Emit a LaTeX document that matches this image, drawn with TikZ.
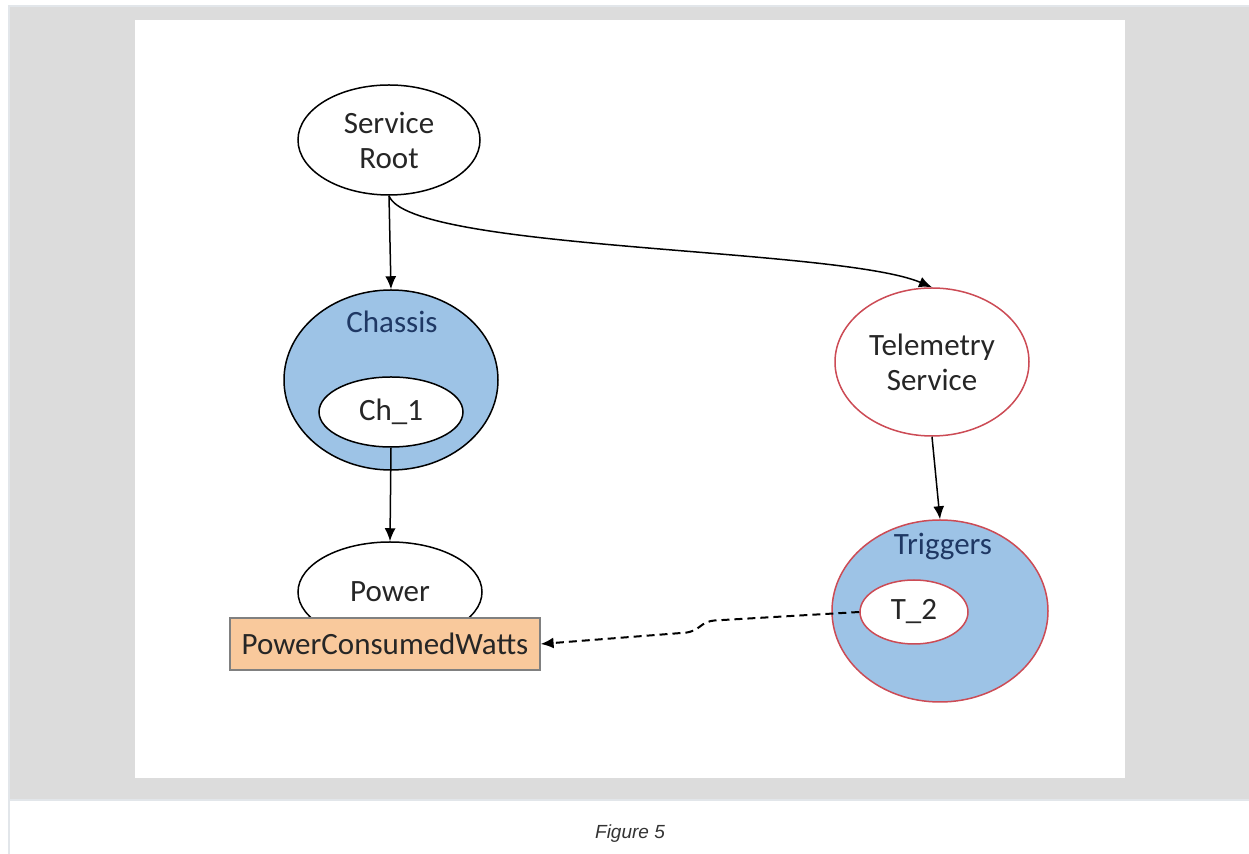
\documentclass[tikz,border=0pt]{standalone}
\usepackage{fontspec}
\setmainfont{Carlito}
\newfontfamily\capfont{Liberation Sans}
\usepackage{xcolor}
\usetikzlibrary{arrows.meta,shapes.geometric}

\definecolor{bandgray}{HTML}{DCDCDC}
\definecolor{edgegray}{HTML}{E2E6EA}
\definecolor{chblue}{HTML}{9DC3E6}
\definecolor{lblblue}{HTML}{1F3864}
\definecolor{ovred}{HTML}{CC4B55}
\definecolor{peach}{HTML}{F9C99C}
\definecolor{txtgray}{HTML}{262626}

\begin{document}
\begin{tikzpicture}[x=0.5pt,y=-0.5pt,
  every node/.style={font=\fontsize{15.5}{17.5}\selectfont,text=txtgray,align=center},
  oval/.style={ellipse,draw,line width=0.75pt,inner sep=0pt},
  arr/.style={-{Latex[length=6.5pt,width=5.5pt]},line width=0.75pt}]

\useasboundingbox (0,0) rectangle (1249,854);

% frame
\fill[bandgray] (8,6) rectangle (1249,800);
\draw[edgegray,line width=1pt] (1249,6) -- (8.5,6) -- (8.5,854);
\draw[edgegray,line width=1pt] (8.5,800.5) -- (1249,800.5);
\fill[white] (135,20) rectangle (1125,778);

% left branch
\node[oval,fill=white,minimum width=91pt,minimum height=55pt] (root) at (389,140) {Service\\Root};
\node[oval,fill=chblue,minimum width=107pt,minimum height=90pt] (chassis) at (391,380) {};
\node[text=lblblue] (chassislbl) at (392,322) {Chassis};
\node[oval,fill=white,minimum width=72pt,minimum height=35pt] (ch1) at (391,412) {Ch\_1};
\node[oval,fill=white,minimum width=92pt,minimum height=50pt] (power) at (390,592) {};
\node (powerlbl) at (390,592) {Power};
\node[draw=gray,fill=peach,line width=0.6pt,minimum width=155pt,minimum height=26pt,inner sep=0pt] (pcw) at (385,644) {PowerConsumedWatts};

% right branch
\node[oval,draw=ovred,fill=white,minimum width=97pt,minimum height=74pt] (tele) at (932,362) {Telemetry\\Service};
\node[oval,draw=ovred,fill=chblue,minimum width=108pt,minimum height=91pt] (trig) at (940,611) {};
\node[text=lblblue] (triglbl) at (943,547) {Triggers};
\node[oval,draw=ovred,fill=white,minimum width=54pt,minimum height=32pt] (t2) at (914,612) {T\_2};

% connectors
\draw[arr] (root.south) -- (chassis.north);
\draw[arr] (root.south) .. controls +(20,55) and +(-95,-40) .. (tele.north);
\draw[arr] (ch1.south) -- (power.north);
\draw[arr] (tele.south) -- (trig.north);
\draw[arr,line width=1pt,dash pattern=on 4pt off 2.5pt,rounded corners=4pt] (t2.west) -- (706,621) -- (694,632) -- (pcw.east);

\node[font=\capfont\itshape\fontsize{9.5}{11}\selectfont,text=black!80] (cap) at (630,834) {Figure 5};
\end{tikzpicture}
\end{document}
